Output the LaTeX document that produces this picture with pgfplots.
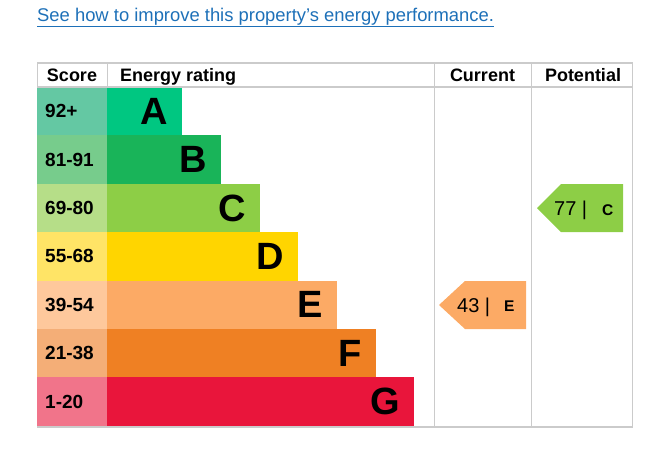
\documentclass[border=0pt]{standalone}
\usepackage{pgfplots}
\pgfplotsset{compat=1.18}
\usepackage{fontspec}
\setmainfont{Liberation Sans}

\definecolor{bandA}{HTML}{00C781}
\definecolor{bandB}{HTML}{19B459}
\definecolor{bandC}{HTML}{8DCE46}
\definecolor{bandD}{HTML}{FFD500}
\definecolor{bandE}{HTML}{FCAA65}
\definecolor{bandF}{HTML}{EF8023}
\definecolor{bandG}{HTML}{E9153B}
\definecolor{scoreA}{HTML}{64C8A3}
\definecolor{scoreB}{HTML}{77CC8C}
\definecolor{scoreC}{HTML}{B6DE88}
\definecolor{scoreD}{HTML}{FFE466}
\definecolor{scoreE}{HTML}{FEC89C}
\definecolor{scoreF}{HTML}{F4AE77}
\definecolor{scoreG}{HTML}{F1748A}
\definecolor{gridgray}{HTML}{CBCBCB}
\definecolor{linkblue}{HTML}{1D70B8}

\newcommand{\hdr}{\fontsize{18}{18}\selectfont\bfseries}
\newcommand{\scr}{\fontsize{19}{19}\selectfont\bfseries}
\newcommand{\bandfont}{\fontsize{38}{38}\selectfont\bfseries}

\begin{document}
\begin{tikzpicture}
\begin{axis}[
  scale only axis, width=659pt, height=448pt,
  xmin=0, xmax=659, ymin=0, ymax=448, y dir=reverse,
  hide axis, clip=false,
]
% score cells (x 37-107)
\addplot[fill=scoreA, draw=none] coordinates {(37,87) (107,87) (107,135.4) (37,135.4)} -- cycle;
\addplot[fill=scoreB, draw=none] coordinates {(37,135.4) (107,135.4) (107,183.8) (37,183.8)} -- cycle;
\addplot[fill=scoreC, draw=none] coordinates {(37,183.8) (107,183.8) (107,232.2) (37,232.2)} -- cycle;
\addplot[fill=scoreD, draw=none] coordinates {(37,232.2) (107,232.2) (107,280.6) (37,280.6)} -- cycle;
\addplot[fill=scoreE, draw=none] coordinates {(37,280.6) (107,280.6) (107,329) (37,329)} -- cycle;
\addplot[fill=scoreF, draw=none] coordinates {(37,329) (107,329) (107,377.4) (37,377.4)} -- cycle;
\addplot[fill=scoreG, draw=none] coordinates {(37,377.4) (107,377.4) (107,425.8) (37,425.8)} -- cycle;
% rating bars
\addplot[fill=bandA, draw=none] coordinates {(107,87) (182,87) (182,135.4) (107,135.4)} -- cycle;
\addplot[fill=bandB, draw=none] coordinates {(107,135.4) (221,135.4) (221,183.8) (107,183.8)} -- cycle;
\addplot[fill=bandC, draw=none] coordinates {(107,183.8) (260,183.8) (260,232.2) (107,232.2)} -- cycle;
\addplot[fill=bandD, draw=none] coordinates {(107,232.2) (298,232.2) (298,280.6) (107,280.6)} -- cycle;
\addplot[fill=bandE, draw=none] coordinates {(107,280.6) (337,280.6) (337,329) (107,329)} -- cycle;
\addplot[fill=bandF, draw=none] coordinates {(107,329) (376,329) (376,377.4) (107,377.4)} -- cycle;
\addplot[fill=bandG, draw=none] coordinates {(107,377.4) (414,377.4) (414,425.8) (107,425.8)} -- cycle;
% current (43, E) and potential (77, C) arrows
\addplot[fill=bandE, draw=none] coordinates {(439,305) (465,281) (526,281) (526,329) (465,329)} -- cycle;
\addplot[fill=bandC, draw=none] coordinates {(537,208) (561,184) (623,184) (623,232) (561,232)} -- cycle;
% table lines
\addplot[gridgray, line width=2pt] coordinates {(37,63) (632,63)};
\addplot[gridgray, line width=2pt] coordinates {(37,86.5) (632,86.5)};
\addplot[gridgray, line width=2pt] coordinates {(37,427) (632,427)};
\addplot[gridgray, line width=1pt] coordinates {(37.5,62) (37.5,87)};
\addplot[gridgray, line width=1pt] coordinates {(107,62) (107,87)};
\addplot[gridgray, line width=1pt] coordinates {(434,62) (434,428)};
\addplot[gridgray, line width=1pt] coordinates {(531,62) (531,428)};
\addplot[gridgray, line width=1pt] coordinates {(632,62) (632,428)};

% link
\node[anchor=base west, inner sep=0, text=linkblue, font=\fontsize{18.4}{18.4}\selectfont]
  at (axis cs:37,21) {\underline{See how to improve this property’s energy performance.}};
% headers
\node[anchor=base, inner sep=0, font=\hdr] at (axis cs:72,81.5) {Score};
\node[anchor=base west, inner sep=0, font=\hdr] at (axis cs:120,81.5) {Energy rating};
\node[anchor=base, inner sep=0, font=\hdr] at (axis cs:482.5,81.5) {Current};
\node[anchor=base, inner sep=0, font=\hdr] at (axis cs:583,81.5) {Potential};
% scores
\node[anchor=west, inner sep=0, font=\scr] at (axis cs:45,111.2) {92+};
\node[anchor=west, inner sep=0, font=\scr] at (axis cs:45,159.6) {81-91};
\node[anchor=west, inner sep=0, font=\scr] at (axis cs:45,208) {69-80};
\node[anchor=west, inner sep=0, font=\scr] at (axis cs:45,256.4) {55-68};
\node[anchor=west, inner sep=0, font=\scr] at (axis cs:45,304.8) {39-54};
\node[anchor=west, inner sep=0, font=\scr] at (axis cs:45,353.2) {21-38};
\node[anchor=west, inner sep=0, font=\scr] at (axis cs:45,401.6) {1-20};
% band letters
\node[anchor=east, inner sep=0, font=\bandfont] at (axis cs:168,111.2) {A};
\node[anchor=east, inner sep=0, font=\bandfont] at (axis cs:207,159.6) {B};
\node[anchor=east, inner sep=0, font=\bandfont] at (axis cs:246,208) {C};
\node[anchor=east, inner sep=0, font=\bandfont] at (axis cs:284,256.4) {D};
\node[anchor=east, inner sep=0, font=\bandfont] at (axis cs:323,304.8) {E};
\node[anchor=east, inner sep=0, font=\bandfont] at (axis cs:362,353.2) {F};
\node[anchor=east, inner sep=0, font=\bandfont] at (axis cs:400,401.6) {G};
% arrow texts
\node[anchor=base west, inner sep=0, font=\fontsize{20}{20}\selectfont] at (axis cs:457,312) {43 |};
\node[anchor=base west, inner sep=0, font=\fontsize{15.5}{15.5}\selectfont\bfseries] at (axis cs:504,311.5) {E};
\node[anchor=base west, inner sep=0, font=\fontsize{20}{20}\selectfont] at (axis cs:554,215.5) {77 |};
\node[anchor=base west, inner sep=0, font=\fontsize{15.5}{15.5}\selectfont\bfseries] at (axis cs:602,215) {C};
\end{axis}
\pgfresetboundingbox
\path (current axis.south west) rectangle (current axis.north east);
\end{tikzpicture}
\end{document}
